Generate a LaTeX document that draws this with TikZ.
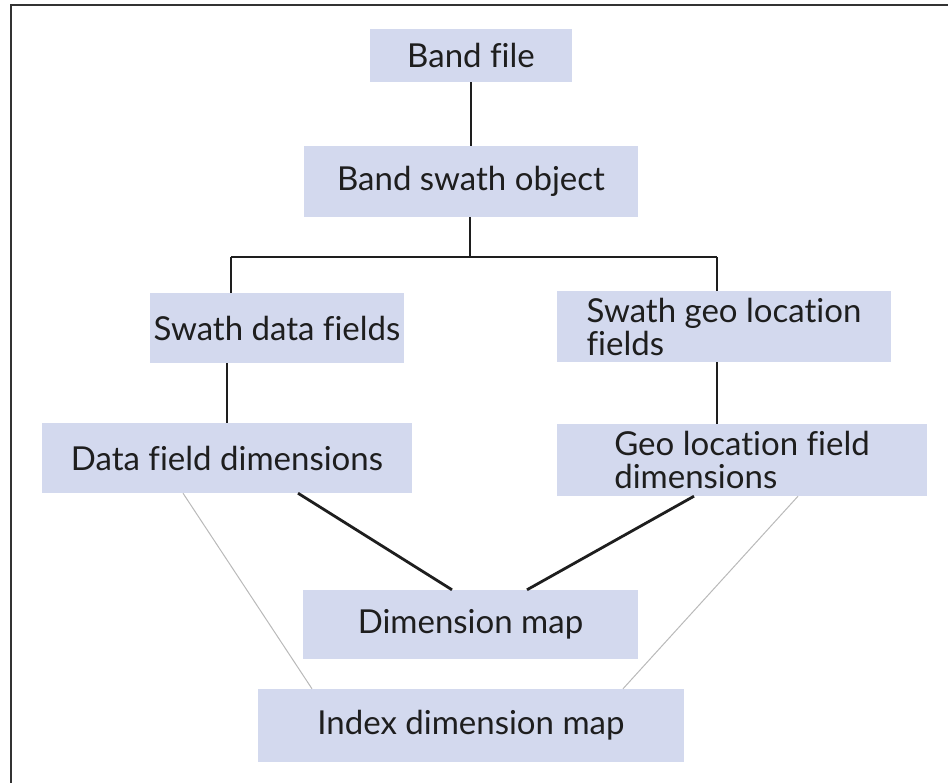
\documentclass[tikz,border=0pt]{standalone}
\usepackage{fontspec}
\setmainfont[Ligatures=NoCommon]{Lato}
\usetikzlibrary{positioning, calc}
\definecolor{BoxFill}{HTML}{D3D9EE}
\definecolor{Ink}{HTML}{1E1E1E}
\definecolor{Frame}{HTML}{333333}
\tikzset{
    box/.style={rectangle, fill=BoxFill, text=Ink, inner sep=0pt, font=\fontsize{33}{33}\selectfont},
    link/.style={line width=2.8pt, color=Ink},
    thinlink/.style={line width=1pt, color=gray!55},
}

\begin{document}
\begin{tikzpicture}[x=1pt, y=-1pt]
    \useasboundingbox (0,0) rectangle (948,783);
    % frame
    \draw[line width=1.6pt, Frame] (11,783) -- (11,5) -- (948,5);

    % boxes
    \node[box, minimum width=202pt, minimum height=53pt] (bf) at (471,55.5) {Band file};
    \node[box, minimum width=334pt, minimum height=71pt] (bs) at (471,181.5) {Band swath object};
    \node[box, minimum width=254pt, minimum height=70pt] (sd) at (277,328) {Swath data fields};
    \node[box, minimum width=334pt, minimum height=71pt, align=left] (sg) at (724,326.5) {Swath geo location\\fields};
    \node[box, minimum width=370pt, minimum height=70pt] (dd) at (227,458) {Data field dimensions};
    \node[box, minimum width=370pt, minimum height=72pt, align=left] (gd) at (742,460) {Geo location field\\dimensions};
    \node[box, minimum width=335pt, minimum height=69pt] (dm) at (470.5,624.5) {Dimension map};
    \node[box, minimum width=426pt, minimum height=73pt] (im) at (471,725.5) {Index dimension map};

    % tree
    \coordinate (split) at (470,257);
    \coordinate (lt) at (231,257);
    \coordinate (rt) at (717,257);
    \draw[link] (bf) -- (bs);
    \draw[link] (bs.south -| split) -- (split);
    \draw[link] (lt) -- (rt);
    \draw[link] (lt) -- (lt |- sd.north);
    \draw[link] (rt) -- (rt |- sg.north);
    \draw[link] (dd.north) -- (dd.north |- sd.south);
    \draw[link] (rt |- sg.south) -- (rt |- gd.north);

    % maps
    \draw[link] ($(dd.south)+(71,0)$) -- ($(dm.north)+(-18.5,0)$);
    \draw[link] ($(gd.south)+(-48,0)$) -- ($(dm.north)+(56.5,0)$);
    \draw[thinlink] ($(dd.south)+(-44,0)$) -- ($(im.north)+(-159,0)$);
    \draw[thinlink] ($(gd.south)+(56,0)$) -- ($(im.north)+(152,0)$);
\end{tikzpicture}
\end{document}
